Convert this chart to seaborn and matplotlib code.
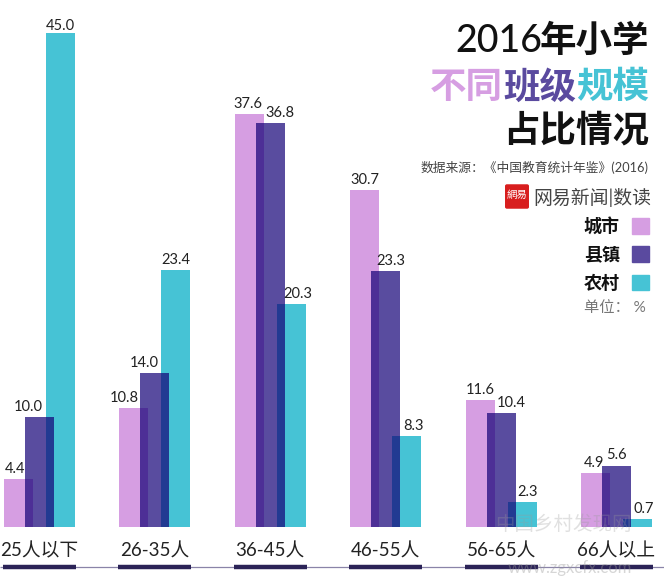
import matplotlib
matplotlib.use("Agg")
import matplotlib.pyplot as plt
from matplotlib.patches import FancyBboxPatch, Patch
import pandas as pd
import seaborn as sns

groups = ['25人以下', '26-35人', '36-45人', '46-55人', '56-65人', '66人以上']
city = [4.4, 10.8, 37.6, 30.7, 11.6, 4.9]
county = [10.0, 14.0, 36.8, 23.3, 10.4, 5.6]
rural = [45.0, 23.4, 20.3, 8.3, 2.3, 0.7]
series_names = ['城市', '县镇', '农村']

W, H = 664, 579
BASE = 527  # pixel row of the bar baseline
PINK, PURPLE, TEAL = '#d69ee2', '#130076', '#46c3d5'

sns.set_theme(style="white")
plt.rcParams['font.family'] = ['Lato', 'Noto Sans CJK SC', 'DejaVu Sans']

df = pd.DataFrame({'group': groups, '城市': city, '县镇': county, '农村': rural})
df = df.melt(id_vars='group', var_name='series', value_name='value')

fig = plt.figure(figsize=(W / 100, H / 100), dpi=100)
ax = fig.add_axes([0, (H - BASE) / H, 1, BASE / H])

sns.barplot(data=df, x='group', y='value', hue='series', hue_order=series_names,
            palette=[PINK, PURPLE, TEAL], width=0.545, saturation=1,
            linewidth=0, legend=False, ax=ax)

ax.set_xlim(-39.5 / 115.4, (W - 39.5) / 115.4)
ax.set_ylim(0, BASE / 10.98)
ax.set_xlabel('')
ax.set_ylabel('')
ax.set_yticks([])
ax.tick_params(axis='x', length=0, pad=11, labelsize=13.5, labelcolor='#222222')
sns.despine(ax=ax, left=True, bottom=True)

# widen the dodged bars so neighbours overlap, purple stays on top
bar_w = 29 / 115.4
for container in ax.containers:
    for bar in container:
        c = bar.get_x() + bar.get_width() / 2
        bar.set_width(bar_w)
        bar.set_x(c - bar_w / 2)
for bar in ax.containers[1]:
    bar.set_alpha(0.7)
    bar.set_zorder(3)

# value labels sit off-centre in the original, shift in pixels
shifts = [
    [-3.5, -9.5, -1, 0, 0, -1.5],
    [-11.5, -10.5, 10, 5.5, 10.5, 0],
    [0, 0, 7, 6.5, 5.5, 6.5],
]
for container, dx in zip(ax.containers, shifts):
    for bar, d in zip(container, dx):
        h = bar.get_height()
        lift = 0 if h == max(rural) else 2.2  # the tallest label sits closer to its bar
        ax.annotate(f'{h:.1f}', (bar.get_x() + bar.get_width() / 2, h),
                    xytext=(d * 0.72, lift), textcoords='offset points',
                    ha='center', va='bottom', fontsize=10.5, color='#222222',
                    annotation_clip=False, zorder=5)

# rule under the tick labels
rule_y = -(567 - BASE) / 10.98
ax.hlines(rule_y, *ax.get_xlim(), color='#8a84a8', lw=0.9, clip_on=False)
for i in range(len(groups)):
    ax.hlines(rule_y, i - 0.316, i + 0.316, color='#2b2357', lw=3.2, clip_on=False, zorder=4)


def px_text(x, y, s, **kw):
    return fig.text(x / W, 1 - y / H, s, va='center', **kw)


# title
px_text(542, 41, '2016', ha='right', fontsize=27, fontweight='medium', color='#111111')
px_text(649, 41, '年小学', ha='right', fontsize=26.3, fontweight='bold', color='#111111')
px_text(503, 87, '不同', ha='right', fontsize=26.3, fontweight='bold', color=PINK)
px_text(576, 87, '班级', ha='right', fontsize=26.3, fontweight='bold', color='#5a4a9f')
px_text(649, 87, '规模', ha='right', fontsize=26.3, fontweight='bold', color=TEAL)
px_text(649, 130, '占比情况', ha='right', fontsize=26.3, fontweight='bold', color='#111111')
px_text(649, 167, '数据来源：《中国教育统计年鉴》(2016)', ha='right', fontsize=9.2, color='#444444')

# logo
fig.add_artist(FancyBboxPatch((507 / W, 1 - 207 / H), 20 / W, 21 / H,
                              boxstyle='round,pad=0.003', transform=fig.transFigure,
                              fc='#d81e1e', ec='none'))
px_text(517, 195, '網易', ha='center', fontsize=7.5, color='white')
px_text(651, 197, '网易新闻|数读', ha='right', fontsize=13.6, color='#444444')

# legend
handles = [Patch(color=PINK), Patch(color='#5a4a9f'), Patch(color=TEAL)]
fig.legend(handles, series_names, loc='upper right', bbox_to_anchor=(649 / W, 1 - 217 / H),
           frameon=False, markerfirst=False, handlelength=0.95, handleheight=0.95,
           handletextpad=0.66, labelspacing=0.62, borderpad=0, borderaxespad=0,
           prop={'size': 13, 'weight': 'bold'}, labelcolor='#111111')
px_text(584, 308, '单位： %', ha='left', fontsize=11, color='#777777')

# site watermark
px_text(563, 524, '中国乡村发现网', ha='center', fontsize=14, color='#9a9a9a', alpha=0.3, zorder=10)
px_text(570, 568, 'www.zgxcfx.com', ha='center', fontsize=12, color='#9a9a9a', alpha=0.4, zorder=10)

fig.savefig('out.png', dpi=100)
